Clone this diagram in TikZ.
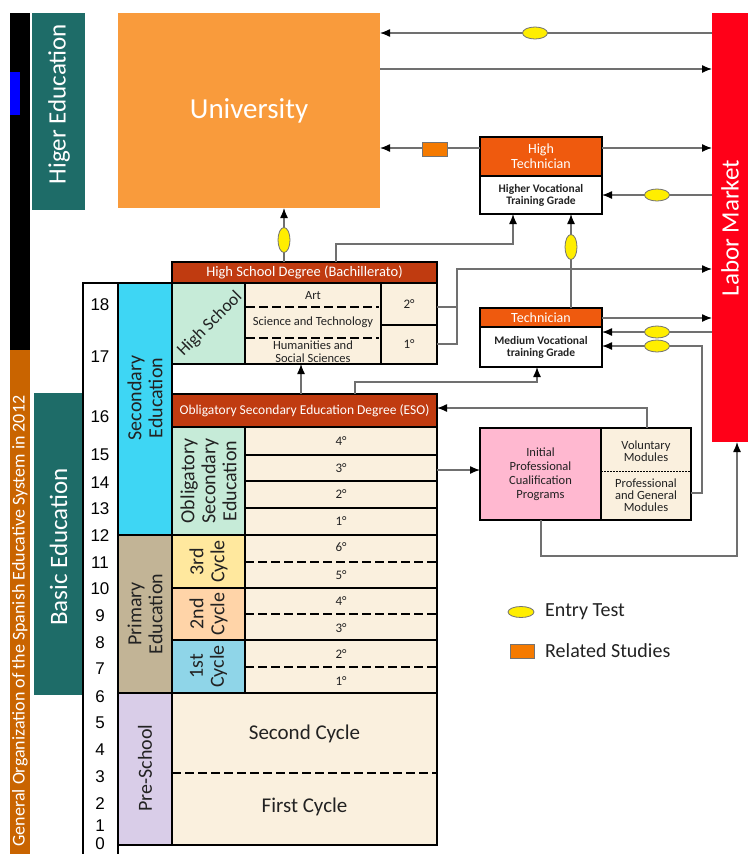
\documentclass[tikz,border=0pt]{standalone}
\usepackage{fontspec}
\setmainfont{Carlito}
\newfontfamily\numfont{Liberation Sans}
\usetikzlibrary{arrows.meta,shapes.geometric}
\definecolor{cTeal}{HTML}{1E6C68}
\definecolor{cSide}{HTML}{C96400}
\definecolor{cBlue}{HTML}{0000FF}
\definecolor{cUni}{HTML}{F99B3C}
\definecolor{cLabor}{HTML}{FF0018}
\definecolor{cHead}{HTML}{C03B10}
\definecolor{cTech}{HTML}{EF5A0E}
\definecolor{cBeige}{HTML}{FAF0DE}
\definecolor{cMint}{HTML}{C6EBD8}
\definecolor{cCyan}{HTML}{3ED6F4}
\definecolor{cTan}{HTML}{C2B496}
\definecolor{cLav}{HTML}{D9CDE8}
\definecolor{cYel}{HTML}{FFE89E}
\definecolor{cPeach}{HTML}{FFD4A8}
\definecolor{cLBlue}{HTML}{8FD5E8}
\definecolor{cPink}{HTML}{FFB8D0}
\definecolor{cEll}{HTML}{FFEE00}
\definecolor{cRel}{HTML}{F57A00}
\definecolor{cLine}{HTML}{707070}
\definecolor{cText}{HTML}{222222}
\begin{document}
\begin{tikzpicture}[x=1pt,y=-1pt,
  bar/.style={inner sep=0pt,outer sep=0pt},
  box/.style={draw=black,line width=1.8pt,inner sep=0pt,outer sep=0pt,align=center,text=cText},
  lab/.style={inner sep=0pt,align=center,text=cText},
  rlab/.style={inner sep=0pt,align=center,text=cText,rotate=90,font=\fontsize{20}{21}\selectfont},
  conn/.style={draw=cLine,line width=1.3pt,-{Latex[length=10pt,width=8pt,color=black]}},
  plain/.style={draw=cLine,line width=1.3pt},
  entry/.style={ellipse,draw=black!55,line width=0.8pt,fill=cEll,inner sep=0pt,minimum width=25pt,minimum height=12pt},
  entryv/.style={ellipse,draw=black!55,line width=0.8pt,fill=cEll,inner sep=0pt,minimum width=12pt,minimum height=25pt},
  rel/.style={draw=black!55,line width=0.8pt,fill=cRel,inner sep=0pt,minimum width=25pt,minimum height=14pt},
  dashsep/.style={draw=black,line width=2pt,dash pattern=on 9pt off 4pt},
  num/.style={font=\numfont\fontsize{17}{17}\selectfont,inner sep=0pt,text=black},
  f13/.style={font=\fontsize{13}{15}\selectfont},
  f12/.style={font=\fontsize{12.5}{13}\selectfont}]
\useasboundingbox (0,0) rectangle (748,854);
\fill[white] (0,0) rectangle (748,854);

% ---------- left bars
\node[bar,fill=black,minimum width=20,minimum height=337] (blackbar) at (20,181.5) {};
\node[bar,fill=cBlue,minimum width=10,minimum height=43] (bluemark) at (15,93.5) {};
\node[bar,fill=cSide,minimum width=20,minimum height=504] (sidebar) at (20,602) {};
\node[rotate=90,inner sep=0pt,text=white,font=\fontsize{18}{18}\selectfont] (sidetext) at (20,621) {General Organization of the Spanish Educative System in 2012};
\node[bar,fill=cTeal,minimum width=53,minimum height=197] (higher) at (58.5,111.5) {};
\node[rotate=90,inner sep=0pt,text=white,font=\fontsize{25}{25}\selectfont] (highertext) at (59,104) {Higer Education};
\node[bar,fill=cTeal,minimum width=49,minimum height=302] (basic) at (58.5,544) {};
\node[rotate=90,inner sep=0pt,text=white,font=\fontsize{25}{25}\selectfont] (basictext) at (58.5,547) {Basic Education};

% ---------- age scale
\coordinate (scB) at (83,854);
\coordinate (scT) at (83,283);
\coordinate (scTR) at (118,283);
\coordinate (scBR) at (118,854);
\draw[line width=1.8pt] (scB) -- (scT) -- (scTR) -- (scBR);
\foreach \n/\yy in {18/305,17/357,16/417,15/455,14/483,13/509,12/536,11/563,10/589,9/616,8/643,7/669,6/697,5/723,4/750,3/777,2/804,1/826,0/844}
  \node[num] (age\n) at (100,\yy) {\n};

% ---------- university and labor market
\node[bar,fill=cUni,minimum width=262,minimum height=195,text=white,font=\fontsize{29}{29}\selectfont] (uni) at (249,110.5) {University};
\node[bar,fill=cLabor,minimum width=36,minimum height=429] (labor) at (730,227.5) {};
\node[rotate=90,inner sep=0pt,text=white,font=\fontsize{25}{25}\selectfont] (labortext) at (730,228) {Labor Market};

% ---------- column 1
\node[box,fill=cCyan,minimum width=54,minimum height=252] (secondary) at (145,409) {};
\node[rlab] (secondarytext) at (145,398) {Secondary\\Education};
\node[box,fill=cTan,minimum width=54,minimum height=158] (primary) at (145,614) {};
\node[rlab] (primarytext) at (145,614) {Primary\\Education};
\node[box,fill=cLav,minimum width=54,minimum height=152] (preschool) at (145,769) {};
\node[rlab] (preschooltext) at (145,768) {Pre-School};

% ---------- high school
\node[box,fill=cHead,text=white,minimum width=265,minimum height=21,font=\fontsize{14.5}{15}\selectfont] (hsdeg) at (304.5,272.5) {High School Degree (Bachillerato)};
\node[box,fill=cMint,minimum width=73,minimum height=81] (hsbox) at (208.5,323.5) {};
\node[lab,rotate=45,font=\fontsize{17.5}{18}\selectfont] (hstext) at (210,324) {High School};
\node[box,fill=cBeige,minimum width=136,minimum height=81] (spec) at (313,323.5) {};
\node[lab,f12] (art) at (313,296) {Art};
\draw[dashsep] (246,307) -- (379,307);
\node[lab,f12] (scitech) at (313,322) {Science and Technology};
\draw[dashsep] (246,338) -- (379,338);
\node[lab,f12] (humsoc) at (313,352) {Humanities and\\Social Sciences};
\node[box,fill=cBeige,minimum width=56,minimum height=42,f13] (two) at (409,304) {2°};
\node[box,fill=cBeige,minimum width=56,minimum height=39,f13] (one) at (409,344.5) {1°};

% ---------- ESO
\node[box,fill=cHead,text=white,minimum width=265,minimum height=33,font=\fontsize{13.5}{15}\selectfont] (esoH) at (304.5,410.5) {Obligatory Secondary Education Degree (ESO)};
\node[box,fill=cMint,minimum width=73,minimum height=108] (ose) at (208.5,481) {};
\node[rlab] (osetext) at (208.5,481) {Obligatory\\Secondary\\Education};
\node[box,fill=cBeige,minimum width=192,minimum height=28,f13] (g4) at (341,441) {4°};
\node[box,fill=cBeige,minimum width=192,minimum height=26,f13] (g3) at (341,468) {3°};
\node[box,fill=cBeige,minimum width=192,minimum height=27,f13] (g2) at (341,494.5) {2°};
\node[box,fill=cBeige,minimum width=192,minimum height=27,f13] (g1) at (341,521.5) {1°};

% ---------- primary
\node[box,fill=cYel,minimum width=73,minimum height=53] (c3) at (208.5,561.5) {};
\node[rlab] (c3text) at (208.5,561.5) {3rd\\Cycle};
\node[box,fill=cBeige,minimum width=192,minimum height=53] (r3) at (341,561.5) {};
\node[lab,f13] (p6) at (341,547) {6°};
\draw[dashsep] (r3.west) -- (r3.east);
\node[lab,f13] (p5) at (341,575) {5°};
\node[box,fill=cPeach,minimum width=73,minimum height=52] (c2) at (208.5,614) {};
\node[rlab] (c2text) at (208.5,614) {2nd\\Cycle};
\node[box,fill=cBeige,minimum width=192,minimum height=52] (r2) at (341,614) {};
\node[lab,f13] (p4) at (341,601) {4°};
\draw[dashsep] (r2.west) -- (r2.east);
\node[lab,f13] (p3) at (341,628) {3°};
\node[box,fill=cLBlue,minimum width=73,minimum height=53] (c1) at (208.5,666.5) {};
\node[rlab] (c1text) at (208.5,666.5) {1st\\Cycle};
\node[box,fill=cBeige,minimum width=192,minimum height=53] (r1) at (341,666.5) {};
\node[lab,f13] (p2) at (341,654) {2°};
\draw[dashsep] (r1.west) -- (r1.east);
\node[lab,f13] (p1) at (341,681) {1°};

% ---------- pre-school
\node[box,fill=cBeige,minimum width=265,minimum height=152] (pre) at (304.5,769) {};
\node[lab,font=\fontsize{21}{21}\selectfont] (second) at (304.5,734) {Second Cycle};
\draw[dashsep] (pre.west |- 0,773) -- (pre.east |- 0,773);
\node[lab,font=\fontsize{21}{21}\selectfont] (first) at (304.5,807) {First Cycle};

% ---------- technicians
\node[box,fill=cTech,text=white,minimum width=122,minimum height=39,font=\fontsize{14}{15}\selectfont] (htH) at (541,156.5) {High\\Technician};
\node[box,fill=white,minimum width=122,minimum height=38,font=\bfseries\fontsize{11.5}{12}\selectfont] (htB) at (541,195) {Higher Vocational\\Training Grade};
\node[box,fill=cTech,text=white,minimum width=122,minimum height=19,font=\fontsize{14}{15}\selectfont] (tH) at (541,317.5) {Technician};
\node[box,fill=white,minimum width=122,minimum height=40,font=\bfseries\fontsize{11.5}{12}\selectfont] (tB) at (541,347) {Medium Vocational\\training Grade};

% ---------- IPCP
\node[box,fill=cPink,minimum width=121,minimum height=92,font=\fontsize{12.5}{14}\selectfont] (ipL) at (540.5,474) {Initial\\Professional\\Cualification\\Programs};
\node[box,fill=cBeige,minimum width=90,minimum height=92] (ipR) at (646,474) {};
\draw[black,line width=0.8pt,dash pattern=on 1.5pt off 1.5pt] (ipR.west |- 0,471) -- (ipR.east |- 0,471);
\node[lab,font=\fontsize{12.5}{12}\selectfont] (vol) at (646,451.5) {Voluntary\\Modules};
\node[lab,font=\fontsize{12.5}{12}\selectfont] (pgm) at (646,495) {Professional\\and General\\Modules};

% ---------- connectors
\draw[conn] (labor.west |- 0,33) -- (uni.east |- 0,33);
\node[entry] (et1) at (535,33) {};
\draw[conn] (uni.east |- 0,69) -- (labor.west |- 0,69);
\draw[conn] (htH.west |- 0,148) -- (uni.east |- 0,148);
\node[rel] (rs1) at (434.5,149) {};
\draw[conn] (htH.east |- 0,148) -- (labor.west |- 0,148);
\draw[conn] (labor.west |- 0,195) -- (htB.east |- 0,195);
\node[entry] (et2) at (657,195) {};
\draw[conn] (hsdeg.north -| 284,0) -- (uni.south -| 284,0);
\node[entryv] (et3) at (284,240) {};
\draw[conn] (hsdeg.north -| 336,0) -- (336,244) -| (htB.south -| 513,0);
\draw[conn] (tH.north -| 571,0) -- (htB.south -| 571,0);
\node[entryv] (et4) at (571,247) {};
\draw[plain] (one.east |- 0,344) -| (457,307);
\draw[conn] (two.east |- 0,307) -- (457,307) |- (labor.west |- 0,269);
\draw[conn] (tH.east |- 0,318) -- (labor.west |- 0,318);
\draw[conn] (labor.west |- 0,332) -- (tB.east |- 0,332);
\node[entry] (et5) at (657,332) {};
\draw[conn] (ipR.east |- 0,493) -- (702,493) -- (702,346) -- (tB.east |- 0,346);
\node[entry] (et6) at (657,346) {};
\draw[conn] (esoH.north -| 355,0) -- (355,382) -| (tB.south -| 537,0);
\draw[conn] (esoH.north -| 301,0) -- (spec.south -| 301,0);
\draw[conn] (ipR.north -| 647,0) -- (647,408) -- (esoH.east |- 0,408);
\draw[conn] (g3.east |- 0,470) -- (ipL.west |- 0,470);
\draw[conn] (ipL.south -| 541,0) -- (541,556) -| (labor.south -| 737,0);

% ---------- legend
\node[entry,minimum width=26,minimum height=11] (legE) at (521,612) {};
\node[lab,anchor=west,font=\fontsize{20}{20}\selectfont] (legEt) at (545,612) {Entry Test};
\node[rel,minimum width=24,minimum height=14] (legR) at (522,651) {};
\node[lab,anchor=west,font=\fontsize{20}{20}\selectfont] (legRt) at (545,651) {Related Studies};
\end{tikzpicture}
\end{document}
